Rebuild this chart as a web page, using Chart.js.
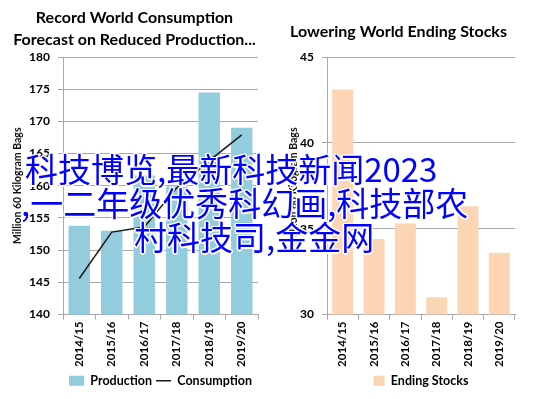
<!DOCTYPE html>
<html>
<head>
<meta charset="utf-8">
<script src="https://cdn.jsdelivr.net/npm/chart.js@4/dist/chart.umd.min.js"></script>
<style>
html,body{margin:0;padding:0;background:#fff;}
#wrap{position:relative;width:537px;height:399px;overflow:hidden;background:#fff;}
#c1{position:absolute;left:0;top:0;}
#c2{position:absolute;left:268px;top:0;}
.ov{position:absolute;font-family:"Noto Sans CJK SC";font-size:33px;line-height:34px;color:#0000ff;white-space:nowrap;
  text-shadow:1.5px 0 0 #fff,-1.5px 0 0 #fff,0 1.5px 0 #fff,0 -1.5px 0 #fff,1.2px 1.2px 0 #fff,-1.2px 1.2px 0 #fff,1.2px -1.2px 0 #fff,-1.2px -1.2px 0 #fff;}
</style>
</head>
<body>
<div id="wrap">
  <canvas id="c1" width="268" height="399"></canvas>
  <canvas id="c2" width="269" height="399"></canvas>
  <div class="ov" style="left:25px;top:151px;">科技博览,最新科技新闻2023</div>
  <div class="ov" style="left:21px;top:185px;">,一二年级优秀科幻画,科技部农</div>
  <div class="ov" style="left:134px;top:219px;">村科技司,金金网</div>
</div>
<script>
const categories = ['2014/15','2015/16','2016/17','2017/18','2018/19','2019/20'];
const production = [153.8, 153.0, 161.6, 159.9, 174.5, 169.0];
const consumption = [145.6, 152.8, 153.6, 159.7, 163.9, 167.9];
const endingStocks = [43.1, 34.4, 35.3, 31.0, 36.3, 33.6];
const leftAxisRange = [140, 180];
const rightAxisRange = [30, 45];
const tickStep = 5;
const axisTitle = 'Million 60 Kilogram Bags';
const leftTitle = ['Record World Consumption', 'Forecast on Reduced Production...'];
const rightTitle = 'Lowering World Ending Stocks';

const GRID = '#a8a8a8';
const bold = (size) => ({family: 'Lato', size: size, weight: 'bold'});

function xScale() {
  return {
    grid: {display: true, drawOnChartArea: false, offset: true, tickLength: 5, color: GRID},
    border: {color: GRID},
    ticks: {minRotation: 90, maxRotation: 90, color: '#000', font: bold(11.5), padding: 2, autoSkip: false},
    afterFit(s) { s.height = 56; }
  };
}
function yScale(range, width, titlePad) {
  return {
    min: range[0], max: range[1],
    ticks: {stepSize: tickStep, padding: 8, color: '#000', font: bold(12)},
    grid: {color: GRID, tickLength: 5},
    border: {color: GRID},
    title: {display: true, text: axisTitle, color: '#111', font: bold(10.5), padding: {top: titlePad, bottom: 0}},
    afterFit(s) { s.width = width; }
  };
}
function legendOpts(w) {
  return {
    position: 'bottom', fullSize: false,
    labels: {usePointStyle: true, pointStyleWidth: w, boxHeight: 10, padding: 4, color: '#000', font: bold(12.5),
      sort: (a, b) => a.datasetIndex - b.datasetIndex}
  };
}

new Chart(document.getElementById('c1'), {
  type: 'bar',
  data: {
    labels: categories,
    datasets: [
      {type: 'bar', label: 'Production', data: production, backgroundColor: '#93CDDD', borderWidth: 0,
        categoryPercentage: 1, barPercentage: 0.66, order: 1, pointStyle: 'rect'},
      {type: 'line', label: 'Consumption', data: consumption, borderColor: '#1a1a1a', backgroundColor: '#1a1a1a',
        borderWidth: 1.5, pointRadius: 0, fill: false, tension: 0, order: 0, pointStyle: 'line'}
    ]
  },
  options: {
    responsive: false, animation: false,
    layout: {padding: {left: 11, right: 10, top: 0, bottom: 2}},
    plugins: {
      title: {display: true, text: leftTitle, color: '#000', font: {family: 'Lato', size: 16, weight: 'bold', lineHeight: 1.375},
        padding: {top: 7, bottom: 6}},
      legend: legendOpts(15),
      tooltip: {enabled: false}
    },
    scales: {x: xScale(), y: yScale(leftAxisRange, 52, 0)}
  }
});

new Chart(document.getElementById('c2'), {
  type: 'bar',
  data: {
    labels: categories,
    datasets: [
      {label: 'Ending Stocks', data: endingStocks, backgroundColor: '#FCD5B5', borderWidth: 0,
        categoryPercentage: 1, barPercentage: 0.67, pointStyle: 'rect'}
    ]
  },
  options: {
    responsive: false, animation: false,
    layout: {padding: {left: 14, right: 22, top: 0, bottom: 2}},
    plugins: {
      title: {display: true, text: rightTitle, color: '#000', font: {family: 'Lato', size: 16, weight: 'bold', lineHeight: 1.375},
        padding: {top: 21, bottom: 14}},
      legend: legendOpts(11),
      tooltip: {enabled: false}
    },
    scales: {x: xScale(), y: yScale(rightAxisRange, 45, 5)}
  }
});
</script>
</body>
</html>
